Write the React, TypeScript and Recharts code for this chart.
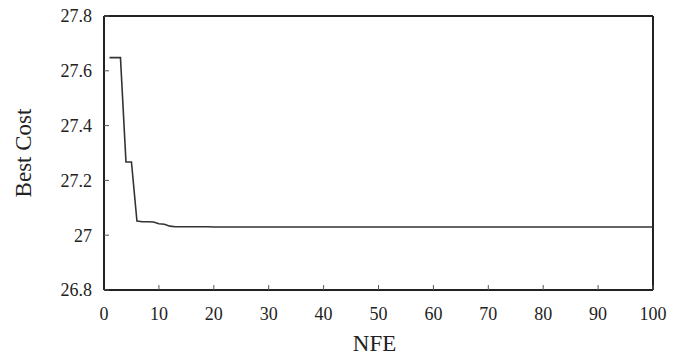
import React from "react";
import { LineChart, Line, XAxis, YAxis, ReferenceLine } from "recharts";

const nfe: number[] = [
  1, 2, 3, 4, 5, 6, 7, 8, 9, 10, 11, 12, 13, 14, 15, 16, 17, 18, 19, 20,
  21, 22, 23, 24, 25, 26, 27, 28, 29, 30, 31, 32, 33, 34, 35, 36, 37, 38, 39, 40,
  41, 42, 43, 44, 45, 46, 47, 48, 49, 50, 51, 52, 53, 54, 55, 56, 57, 58, 59, 60,
  61, 62, 63, 64, 65, 66, 67, 68, 69, 70, 71, 72, 73, 74, 75, 76, 77, 78, 79, 80,
  81, 82, 83, 84, 85, 86, 87, 88, 89, 90, 91, 92, 93, 94, 95, 96, 97, 98, 99, 100,
];

const bestCost: number[] = [
  27.648, 27.648, 27.648, 27.267, 27.267, 27.052, 27.049, 27.049, 27.048, 27.042,
  27.04, 27.033, 27.031, 27.031, 27.031, 27.031, 27.031, 27.031, 27.031, 27.03,
  27.03, 27.03, 27.03, 27.03, 27.03, 27.03, 27.03, 27.03, 27.03, 27.03,
  27.03, 27.03, 27.03, 27.03, 27.03, 27.03, 27.03, 27.03, 27.03, 27.03,
  27.03, 27.03, 27.03, 27.03, 27.03, 27.03, 27.03, 27.03, 27.03, 27.03,
  27.03, 27.03, 27.03, 27.03, 27.03, 27.03, 27.03, 27.03, 27.03, 27.03,
  27.03, 27.03, 27.03, 27.03, 27.03, 27.03, 27.03, 27.03, 27.03, 27.03,
  27.03, 27.03, 27.03, 27.03, 27.03, 27.03, 27.03, 27.03, 27.03, 27.03,
  27.03, 27.03, 27.03, 27.03, 27.03, 27.03, 27.03, 27.03, 27.03, 27.03,
  27.03, 27.03, 27.03, 27.03, 27.03, 27.03, 27.03, 27.03, 27.03, 27.03,
];

const xTicks: number[] = [0, 10, 20, 30, 40, 50, 60, 70, 80, 90, 100];
const yTicks: number[] = [26.8, 27, 27.2, 27.4, 27.6, 27.8];

const xLabel = "NFE";
const yLabel = "Best Cost";

const data = nfe.map((x, i) => ({ nfe: x, cost: bestCost[i] }));

const FONT = "'Liberation Serif', 'Times New Roman', serif";

const YLabel = (props: any) => {
  const vb = props.viewBox || {};
  const cy = (vb.y || 0) + (vb.height || 0) / 2;
  return (
    <text
      x={0}
      y={0}
      transform={`translate(31, ${cy}) rotate(-90)`}
      textAnchor="middle"
      fontFamily={FONT}
      fontSize={23}
      fill="#222"
    >
      {yLabel}
    </text>
  );
};

const XLabel = (props: any) => {
  const vb = props.viewBox || {};
  const cx = (vb.x || 0) + (vb.width || 0) / 2 - 4;
  return (
    <text x={cx} y={351} textAnchor="middle" fontFamily={FONT} fontSize={23} fill="#222">
      {xLabel}
    </text>
  );
};

export default function App() {
  return (
    <div style={{ position: "absolute", left: 0, top: 0, width: 681, height: 356, background: "#fff" }}>
      <LineChart width={681} height={356} data={data} margin={{ top: 16, right: 28, bottom: 26, left: 0 }}>
        <XAxis
          dataKey="nfe"
          type="number"
          domain={[0, 100]}
          ticks={xTicks}
          interval={0}
          height={40}
          tickSize={-5}
          tickMargin={22}
          axisLine={{ stroke: "#222", strokeWidth: 2 }}
          tickLine={{ stroke: "#555", strokeWidth: 1 }}
          tick={{ fontFamily: FONT, fontSize: 18, fill: "#222" }}
          label={<XLabel />}
        />
        <YAxis
          type="number"
          domain={[26.8, 27.8]}
          ticks={yTicks}
          interval={0}
          width={104}
          tickSize={-5}
          tickMargin={17}
          axisLine={{ stroke: "#222", strokeWidth: 2 }}
          tickLine={{ stroke: "#555", strokeWidth: 1 }}
          tick={{ fontFamily: FONT, fontSize: 18, fill: "#222" }}
          allowDataOverflow
          label={<YLabel />}
        />
        <ReferenceLine y={27.8} stroke="#222" strokeWidth={2} />
        <ReferenceLine x={100} stroke="#222" strokeWidth={2} />
        <Line
          type="linear"
          dataKey="cost"
          stroke="#333"
          strokeWidth={1.6}
          dot={false}
          isAnimationActive={false}
        />
      </LineChart>
    </div>
  );
}
